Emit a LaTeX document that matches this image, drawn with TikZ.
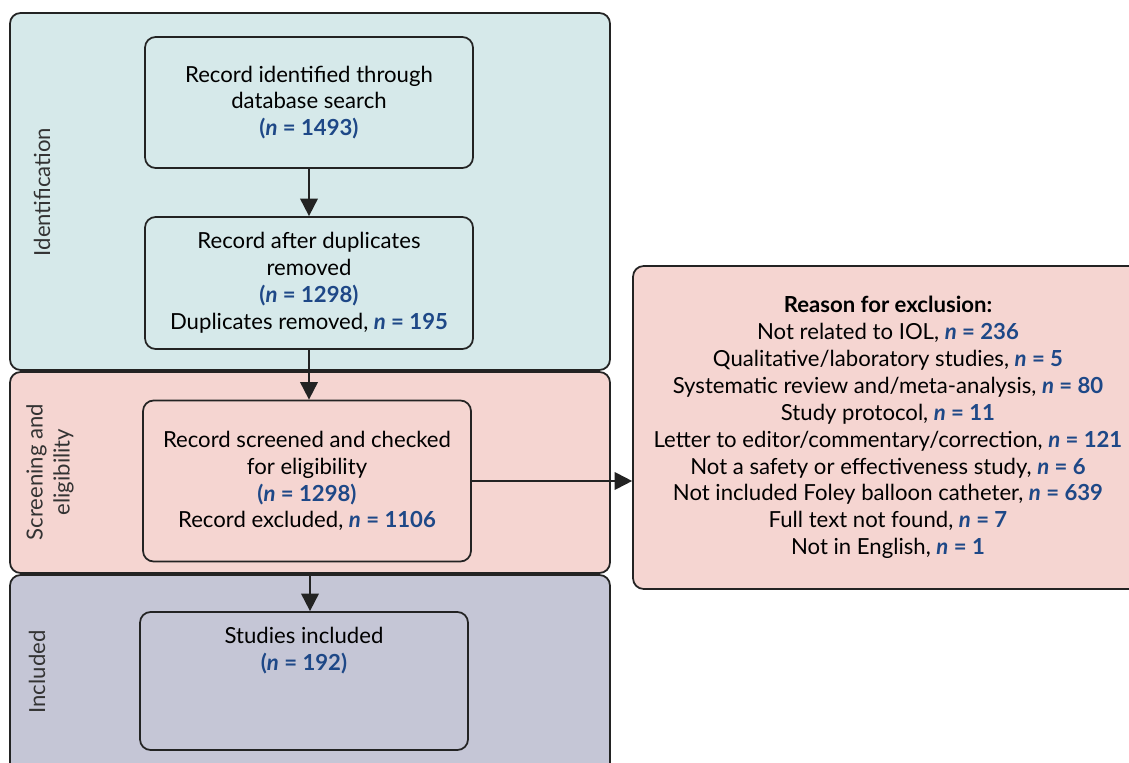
\documentclass[tikz,border=0pt]{standalone}
\usepackage{fontspec}
\setmainfont{Lato}
\usetikzlibrary{arrows.meta,positioning}
\definecolor{identcol}{RGB}{214,233,234}
\definecolor{screencol}{RGB}{245,213,209}
\definecolor{inclcol}{RGB}{197,198,214}
\definecolor{nblue}{RGB}{30,72,135}
\definecolor{linecol}{RGB}{35,35,35}
\newcommand{\nval}[1]{\textcolor{nblue}{\textbf{\textit{n}~=~#1}}}
\newcommand{\nparen}[1]{\textcolor{nblue}{\textbf{(\textit{n}~=~#1)}}}

\begin{document}
\begin{tikzpicture}[x=0.02cm,y=-0.02cm,
  font=\fontsize{12.6}{15.3}\selectfont,
  band/.style={draw=linecol,line width=1pt,rounded corners=6pt},
  stepbox/.style={draw=linecol,line width=1pt,rounded corners=6pt,align=center,minimum width=6.56cm,inner sep=0pt},
  phase/.style={rotate=90,align=center,text=black!80},
  arr/.style={-{Triangle[width=10pt,length=10pt]},line width=1.1pt,draw=linecol}]
	\clip (0,0) rectangle (1129,763);
	% phase bands
	\draw[band,fill=identcol] (10,13) rectangle (610,370);
	\draw[band,fill=screencol] (10,372) rectangle (610,573);
	\draw[band,fill=inclcol] (10,575) rectangle (610,790);
	\node[phase] (identlabel) at (42,192) {Identification};
	\node[phase] (screenlabel) at (50,472) {Screening and\\eligibility};
	\node[phase] (incllabel) at (37,672) {Included};
	% steps
	\node[stepbox,fill=identcol,minimum height=2.62cm] (ident) at (309,102.5) {Record identified through\\database search\\\nparen{1493}};
	\node[stepbox,fill=identcol,minimum height=2.64cm] (dedup) at (309,283) {Record after duplicates\\removed\\\nparen{1298}\\Duplicates removed, \nval{195}};
	\node[stepbox,fill=screencol,minimum height=3.22cm] (screen) at (307,481) {Record screened and checked\\for eligibility\\\nparen{1298}\\Record excluded, \nval{1106}};
	\node[stepbox,fill=inclcol,minimum height=2.76cm] (incl) at (304,681) {};
	\node[below=0.2cm of incl.north,align=center] (incltext) {Studies included\\\nparen{192}};
	\node[stepbox,fill=screencol,minimum width=10.2cm,minimum height=6.46cm] (excl) at (888,427.5) {\textbf{Reason for exclusion:}\\
Not related to IOL, \nval{236}\\
Qualitative/laboratory studies, \nval{5}\\
Systematic review and/meta-analysis, \nval{80}\\
Study protocol, \nval{11}\\
Letter to editor/commentary/correction, \nval{121}\\
Not a safety or effectiveness study, \nval{6}\\
Not included Foley balloon catheter, \nval{639}\\
Full text not found, \nval{7}\\
Not in English, \nval{1}};
	% connectors
	\coordinate (split) at (310,573);
	\draw[arr] (ident) -- (dedup);
	\draw[arr] (dedup.south) -- (dedup.south |- screen.north);
	\draw[arr] (split) -- (split |- incl.north);
	\draw[arr] (screen.east) -- (screen.east -| excl.west);
\end{tikzpicture}
\end{document}
